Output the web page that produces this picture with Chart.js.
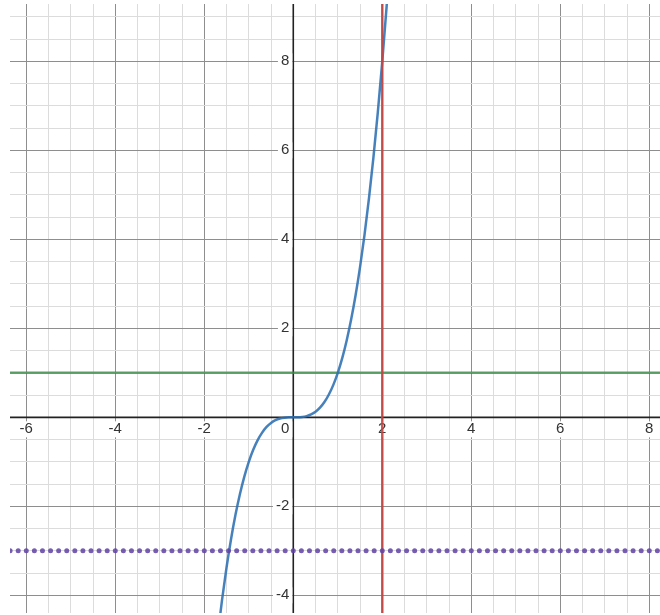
<!DOCTYPE html>
<html>
<head>
<meta charset="utf-8">
<script src="https://cdn.jsdelivr.net/npm/chart.js@4/dist/chart.umd.min.js"></script>
<style>
  html, body { margin: 0; padding: 0; background: #fff; }
  canvas { display: block; }
</style>
</head>
<body>
<canvas id="graph" width="660" height="615"></canvas>
<script>
// curve y = x^3
var curveX = [-1.7, -1.6, -1.5, -1.4, -1.3, -1.2, -1.1, -1.0, -0.9, -0.8, -0.7, -0.6, -0.5, -0.4, -0.3, -0.2, -0.1, 0,
  0.1, 0.2, 0.3, 0.4, 0.5, 0.6, 0.7, 0.8, 0.9, 1.0, 1.1, 1.2, 1.3, 1.4, 1.5, 1.6, 1.7, 1.8, 1.9, 2.0, 2.1, 2.2];
var curveY = [-4.913, -4.096, -3.375, -2.744, -2.197, -1.728, -1.331, -1, -0.729, -0.512, -0.343, -0.216, -0.125, -0.064, -0.027, -0.008, -0.001, 0,
  0.001, 0.008, 0.027, 0.064, 0.125, 0.216, 0.343, 0.512, 0.729, 1, 1.331, 1.728, 2.197, 2.744, 3.375, 4.096, 4.913, 5.832, 6.859, 8, 9.261, 10.648];

var greenY = 1;     // horizontal line
var redX = 2;       // vertical line
var purpleY = -3;   // dotted horizontal line

var xTickLabels = [-6, -4, -2, 0, 2, 4, 6, 8];
var yTickLabels = [-4, -2, 2, 4, 6, 8];

var curvePts = curveX.map(function (x, i) { return { x: x, y: curveY[i] }; });

function gridTicks(axis) {
  var t = [];
  for (var v = Math.ceil(axis.min / 0.5) * 0.5; v <= axis.max + 1e-9; v += 0.5) t.push({ value: Math.round(v * 2) / 2 });
  axis.ticks = t;
}

function gridColor(c) {
  var v = c.tick.value;
  if (Math.abs(v % 2) < 1e-6) return '#8e8e8e';
  return '#dcdcdc';
}

var axesPlugin = {
  id: 'axes',
  beforeDatasetsDraw: function (chart) {
    var ctx = chart.ctx, a = chart.chartArea;
    var xs = chart.scales.x, ys = chart.scales.y;
    var ox = xs.getPixelForValue(0), oy = ys.getPixelForValue(0);
    ctx.save();
    ctx.strokeStyle = '#222';
    ctx.lineWidth = 1.6;
    ctx.beginPath();
    ctx.moveTo(a.left, oy); ctx.lineTo(a.right, oy);
    ctx.moveTo(ox, a.top); ctx.lineTo(ox, a.bottom);
    ctx.stroke();

    ctx.font = '15px "Liberation Sans", Arial, sans-serif';
    ctx.textBaseline = 'middle';
    function label(txt, x, y, align) {
      ctx.textAlign = align;
      var w = ctx.measureText(txt).width;
      var left = align === 'right' ? x - w : x - w / 2;
      ctx.fillStyle = '#fff';
      ctx.fillRect(left - 3, y - 8, w + 6, 16);
      ctx.fillStyle = '#333';
      ctx.fillText(txt, x, y);
    }
    xTickLabels.forEach(function (v) {
      if (v === 0) label(String(v), ox - 4, oy + 12, 'right');
      else label(String(v), xs.getPixelForValue(v), oy + 12, 'center');
    });
    yTickLabels.forEach(function (v) {
      label(String(v), ox - 4, ys.getPixelForValue(v), 'right');
    });
    ctx.restore();
  }
};

new Chart(document.getElementById('graph'), {
  type: 'line',
  data: {
    datasets: [
      {
        data: [{ x: -8, y: purpleY }, { x: 10, y: purpleY }],
        borderColor: 'rgba(96,66,166,0.85)',
        borderWidth: 5,
        borderDash: [0, 89 / 11],
        borderCapStyle: 'round',
        pointRadius: 0
      },
      {
        data: [{ x: redX, y: -10 }, { x: redX, y: 20 }],
        borderColor: 'rgba(199,68,64,0.9)',
        borderWidth: 2.5,
        pointRadius: 0
      },
      {
        data: curvePts,
        borderColor: 'rgba(45,112,179,0.88)',
        borderWidth: 2.5,
        cubicInterpolationMode: 'monotone',
        pointRadius: 0
      },
      {
        data: [{ x: -10, y: greenY }, { x: 10, y: greenY }],
        borderColor: 'rgba(56,140,70,0.8)',
        borderWidth: 2.5,
        pointRadius: 0
      }
    ]
  },
  options: {
    responsive: false,
    animation: false,
    clip: 0,
    layout: { padding: { left: 10, top: 4, right: 0, bottom: 2 } },
    plugins: { legend: { display: false }, tooltip: { enabled: false } },
    scales: {
      x: {
        type: 'linear',
        min: -6.366, max: 8.241,
        afterBuildTicks: gridTicks,
        ticks: { display: false },
        border: { display: false },
        grid: { drawTicks: false, color: gridColor, lineWidth: 1 }
      },
      y: {
        type: 'linear',
        min: -4.397, max: 9.288,
        afterBuildTicks: gridTicks,
        ticks: { display: false },
        border: { display: false },
        grid: { drawTicks: false, color: gridColor, lineWidth: 1 }
      }
    }
  },
  plugins: [axesPlugin]
});
</script>
</body>
</html>
